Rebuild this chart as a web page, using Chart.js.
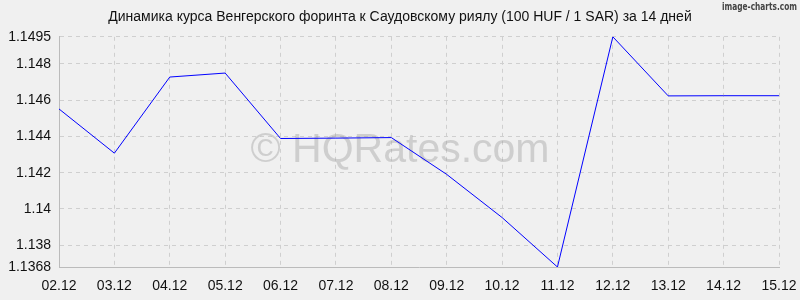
<!DOCTYPE html>
<html>
<head>
<meta charset="utf-8">
<script src="https://cdn.jsdelivr.net/npm/chart.js@4"></script>
<style>
  html, body { margin: 0; padding: 0; background: #f0f0f0; }
  #wrap { width: 800px; height: 300px; }
</style>
</head>
<body>
<div id="wrap"><canvas id="rateChart"></canvas></div>
<script>
var labels = ["02.12", "03.12", "04.12", "05.12", "06.12", "07.12", "08.12",
              "09.12", "10.12", "11.12", "12.12", "13.12", "14.12", "15.12"]
var rates = [1.14552, 1.14308, 1.14728, 1.14750, 1.14389, 1.14391, 1.14394,
             1.14191, 1.13953, 1.1368, 1.1495, 1.14624, 1.14625, 1.14625]
var yTicks = [1.1368, 1.138, 1.14, 1.142, 1.144, 1.146, 1.148, 1.1495]

var titleText = "Динамика курса Венгерского форинта к Саудовскому риялу (100 HUF / 1 SAR) за 14 дней"

// watermark and credit text
var decorations = {
    id: "decorations",
    beforeDatasetsDraw: function(chart) {
        var ctx = chart.ctx
        ctx.save()
        ctx.fillStyle = "rgba(160,160,160,0.42)"
        ctx.font = "41px Arial, 'Liberation Sans'"
        ctx.textAlign = "center"
        ctx.textBaseline = "alphabetic"
        ctx.fillText("© HQRates.com", 400, 162)
        ctx.restore()
    },
    afterDraw: function(chart) {
        var ctx = chart.ctx
        var txt = "image-charts.com"
        ctx.save()
        ctx.fillStyle = "#444"
        ctx.font = "bold 11px 'DejaVu Sans Condensed'"
        var w = ctx.measureText(txt).width
        ctx.translate(797, 7)
        ctx.scale(75 / w, 1)
        ctx.textAlign = "right"
        ctx.textBaseline = "middle"
        ctx.fillText(txt, 0, 0)
        ctx.restore()
    }
}

var ctx = document.getElementById("rateChart").getContext("2d")
var rateChart = new Chart(ctx, {
    type: "line",
    data: {
        labels: labels,
        datasets: [{
            data: rates,
            borderColor: "#0000ff",
            borderWidth: 1,
            pointRadius: 0,
            tension: 0,
            fill: false
        }]
    },
    options: {
        responsive: true,
        maintainAspectRatio: false,
        animation: false,
        layout: { padding: 0 },
        plugins: {
            legend: { display: false },
            tooltip: { enabled: false },
            title: {
                display: true,
                text: titleText,
                color: "#111",
                font: { family: "Arial, 'Liberation Sans'", size: 14, weight: "normal" },
                padding: { top: 9, bottom: 11 }
            }
        },
        scales: {
            x: {
                offset: false,
                grid: { color: "#cfcfcf", drawTicks: false },
                border: { color: "#bbb", dash: [4, 4] },
                ticks: {
                    color: "#111",
                    padding: 11,
                    maxRotation: 0,
                    autoSkip: false,
                    font: { family: "Arial, 'Liberation Sans'", size: 14 }
                },
                afterFit: function(scale) {
                    scale.height = 33
                    scale.paddingRight = 21
                    scale.paddingLeft = 0
                }
            },
            y: {
                min: 1.1368,
                max: 1.1495,
                grid: { color: "#cfcfcf", drawTicks: false },
                border: { color: "#bbb", dash: [4, 4] },
                afterBuildTicks: function(scale) {
                    scale.ticks = yTicks.map(function(v) { return { value: v } })
                },
                ticks: {
                    color: "#111",
                    padding: 8,
                    autoSkip: false,
                    font: { family: "Arial, 'Liberation Sans'", size: 14 },
                    callback: function(value) { return String(value) }
                },
                afterFit: function(scale) {
                    scale.width = 59
                    scale.paddingTop = 0
                    scale.paddingBottom = 0
                }
            }
        }
    },
    plugins: [decorations]
})
</script>
</body>
</html>
